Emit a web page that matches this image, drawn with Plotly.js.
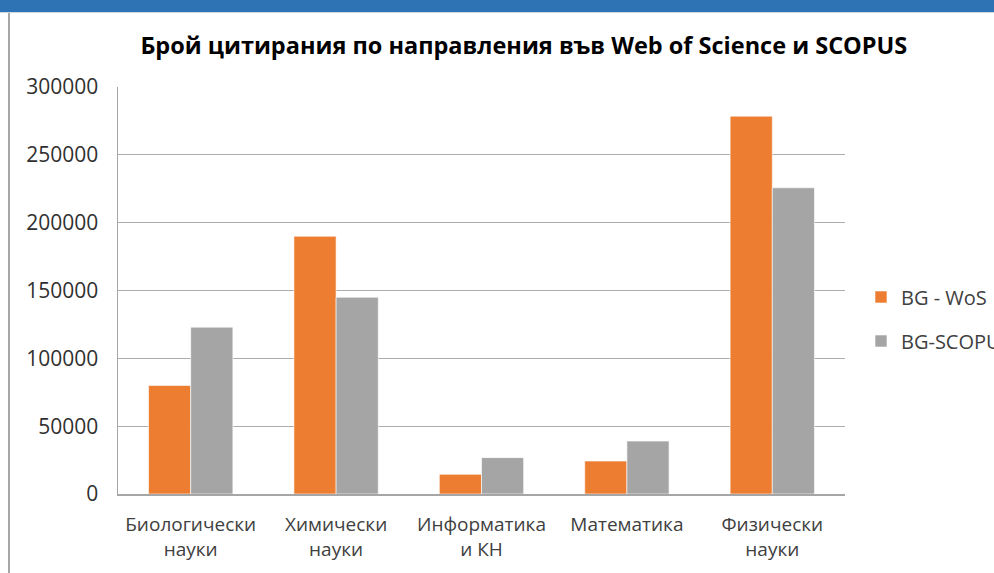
<!DOCTYPE html>
<html>
<head>
<meta charset="utf-8">
<script src="https://cdn.plot.ly/plotly-3.0.1.min.js"></script>
<style>
  html, body { margin: 0; padding: 0; background: #fff; }
  #wrap { position: relative; width: 994px; height: 573px; overflow: hidden; }
  #chart { position: absolute; left: 0; top: 0; width: 994px; height: 573px; }
  #topbar { position: absolute; left: 0; top: 0; width: 994px; height: 12px; background: #2E74B5; border-bottom: 1px solid #d0d8e4; }
  #leftline { position: absolute; left: 8px; top: 13px; width: 1.5px; height: 560px; background: #a6a6a6; }
</style>
</head>
<body>
<div id="wrap">
  <div id="chart"></div>
  <div id="topbar"></div>
  <div id="leftline"></div>
</div>
<script>
const categories = ["Биологически<br>науки", "Химически<br>науки", "Информатика<br>и КН", "Математика", "Физически<br>науки"];
const seriesNames = ["BG - WoS", "BG-SCOPUS"];
const wosValues = [80000, 190000, 14500, 24300, 278500];
const scopusValues = [123000, 145000, 26800, 39000, 225700];
const yTickVals = [0, 50000, 100000, 150000, 200000, 250000, 300000];
const yTickText = ["0", "50000", "100000", "150000", "200000", "250000", "300000"];

const traces = [
  { type: "bar", name: seriesNames[0], x: categories, y: wosValues, legendgroup: "a",
    marker: { color: "#ED7D31", line: { color: "#ffffff", width: 0.6 } } },
  { type: "bar", name: seriesNames[1], x: categories, y: scopusValues, legendgroup: "b",
    marker: { color: "#A5A5A5", line: { color: "#ffffff", width: 0.6 } } }
];

const layout = {
  width: 994, height: 573,
  margin: { l: 118, r: 149, t: 87, b: 79, autoexpand: false },
  paper_bgcolor: "#ffffff", plot_bgcolor: "#ffffff",
  font: { family: "Open Sans, sans-serif", color: "#404040" },
  title: { text: "<b>Брой цитирания по направления във Web of Science и SCOPUS</b>",
    font: { family: "Open Sans, sans-serif", size: 23.5, color: "#000000" },
    x: 0.527, xanchor: "center", y: 0.92, yanchor: "middle" },
  barmode: "group", bargap: 0.42, bargroupgap: 0,
  xaxis: { type: "category", showgrid: false, showline: true, linecolor: "#a6a6a6", linewidth: 1.5,
    ticks: "", ticklabelstandoff: 13, tickfont: { size: 19, color: "#404040" } },
  yaxis: { range: [0, 300000], tickvals: yTickVals, ticktext: yTickText, showgrid: true,
    gridcolor: "#acacac", gridwidth: 1.2, showline: true, linecolor: "#a6a6a6", linewidth: 1.5,
    zeroline: false, ticks: "", ticklabelstandoff: 14, tickfont: { size: 21, color: "#303030" } },
  legend: { x: 1.022, xanchor: "left", y: 0.43, yanchor: "middle", traceorder: "grouped",
    tracegroupgap: 15, font: { size: 20, color: "#404040" }, itemwidth: 30, bgcolor: "rgba(0,0,0,0)" },
  showlegend: true
};

Plotly.newPlot("chart", traces, layout, { staticPlot: true, displayModeBar: false });
</script>
</body>
</html>
